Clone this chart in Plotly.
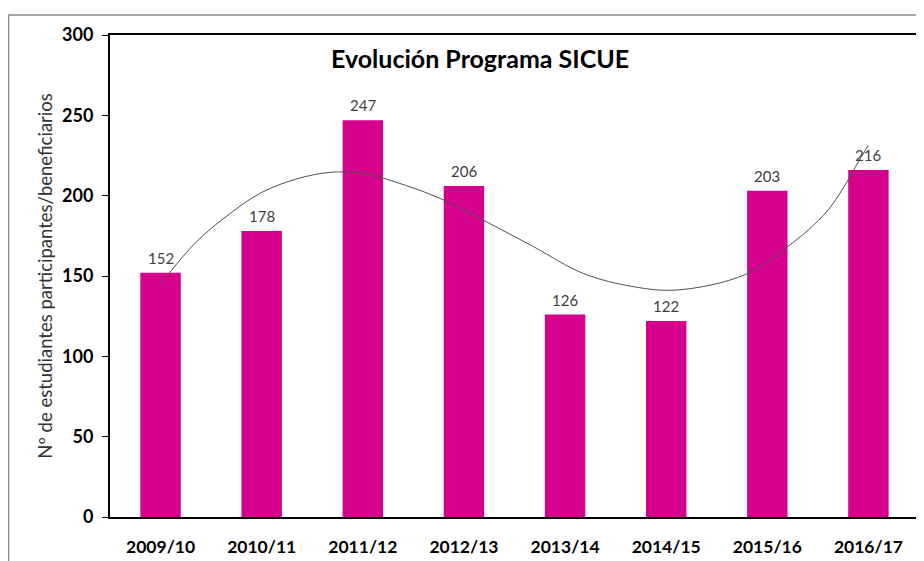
import plotly.graph_objects as go

categories = ["2009/10", "2010/11", "2011/12", "2012/13", "2013/14", "2014/15", "2015/16", "2016/17"]
values = [152, 178, 247, 206, 126, 122, 203, 216]

# trend line (x in category index units)
trend_x = [0.0, 0.35, 0.69, 1.0, 1.35, 1.68, 2.0, 2.42, 2.8, 3.19, 3.69, 4.18, 4.68, 5.11, 5.77, 6.2, 6.6, 6.93, 7.0]
trend_y = [145, 171, 189, 202, 210.5, 214.5, 213.9, 206.5, 197.3, 184.8, 168.2, 151.6, 143.3, 141.3, 150.6, 168.2, 191, 224.2, 231.5]

yticks = [0, 50, 100, 150, 200, 250, 300]

FONT = "Lato, 'Open Sans', sans-serif"

fig = go.Figure()
fig.add_trace(go.Bar(
    x=list(range(len(categories))), y=values, width=0.4,
    marker=dict(color="#D5008C", line=dict(width=0)),
    showlegend=False,
))
fig.add_trace(go.Scatter(
    x=trend_x, y=trend_y, mode="lines", line=dict(color="#505050", width=1, shape="spline", smoothing=1),
    showlegend=False, hoverinfo="skip",
))
for i, v in enumerate(values):
    fig.add_annotation(x=i, y=v, text=str(v), showarrow=False, yshift=15,
                       font=dict(family=FONT, size=15, color="#404040"))

# page body has an 8px margin; plot area is placed at page x 110..919, y 35..517
fig.update_layout(
    width=916, height=553,
    margin=dict(l=102, r=5, t=27, b=44, autoexpand=False),
    paper_bgcolor="white", plot_bgcolor="white",
    font=dict(family=FONT, color="black"),
    shapes=[dict(
        type="rect", xref="paper", yref="paper",
        x0=(8.5 - 110) / 809, x1=1.2, y0=-0.3, y1=(517 - 15) / 482,
        line=dict(color="#8c8c8c", width=1.5), fillcolor="rgba(0,0,0,0)", layer="below",
    )],
)
fig.add_annotation(
    text="<b>Evolución Programa SICUE</b>", x=(480 - 110) / 809, xref="paper", y=(517 - 58) / 482, yref="paper",
    xanchor="center", yanchor="middle",
    showarrow=False, font=dict(size=25, color="black", family=FONT),
)

fig.update_xaxes(
    range=[-0.5, 7.5], tickvals=list(range(len(categories))), ticktext=["<b>%s</b>" % c for c in categories],
    tickfont=dict(size=17.5, color="black", family=FONT),
    showline=True, linecolor="black", linewidth=2, mirror=True, automargin=False,
    showgrid=False, zeroline=False, ticks="", ticklabelstandoff=13,
)
fig.update_yaxes(
    range=[0, 300], tickvals=yticks, ticktext=["<b>%d</b>" % v for v in yticks],
    tickfont=dict(size=18, color="black", family=FONT),
    showline=True, linecolor="black", linewidth=2, mirror=True, automargin=False,
    showgrid=False, zeroline=False, ticks="outside", ticklen=6, tickcolor="black", tickwidth=1,
    ticklabelstandoff=5,
    title=dict(text="Nº de estudiantes participantes/beneficiarios", font=dict(size=18.5, color="#333333", family=FONT), standoff=5),
)

fig.write_html("out.html")
